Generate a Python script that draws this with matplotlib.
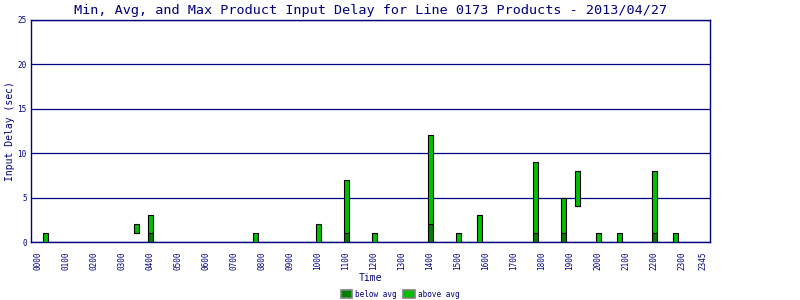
import numpy as np
import matplotlib
matplotlib.use("Agg")
import matplotlib.pyplot as plt
from matplotlib.patches import Patch

# quarter-hour slot index (0 = 00:00, 95 = 23:45) and delay stats in seconds
slots = [1, 14, 16, 31, 40, 44, 48, 56, 60, 63, 71, 75, 77, 80, 83, 88, 91]
min_delay = [0, 1, 0, 0, 0, 0, 0, 0, 0, 0, 0, 0, 4, 0, 0, 0, 0]
avg_delay = [0, 1, 1, 0, 0, 1, 0, 2, 0, 0, 1, 1, 4, 0, 0, 1, 0]
max_delay = [1, 2, 3, 1, 2, 7, 1, 12, 1, 3, 9, 5, 8, 1, 1, 8, 1]

tick_slots = list(range(0, 96, 4)) + [95]
tick_labels = ["%02d00" % h for h in range(24)] + ["2345"]

navy = "#000080"
dark_green = "#008000"
light_green = "#00c000"

fig = plt.figure(figsize=(8, 3), dpi=100)
ax = fig.add_axes([31 / 800, 1 - 242 / 300, 679 / 800, 222 / 300])

x = np.array(slots)
mn = np.array(min_delay)
av = np.array(avg_delay)
mx = np.array(max_delay)

ax.bar(x + 0.1, av - mn, bottom=mn, width=0.7, color=dark_green,
       edgecolor="black", linewidth=0.8, zorder=3)
ax.bar(x + 0.1, mx - av, bottom=av, width=0.7, color=light_green,
       edgecolor="black", linewidth=0.8, zorder=3)

ax.set_xlim(-1, 96)
ax.set_ylim(0, 25)
ax.set_yticks([0, 5, 10, 15, 20, 25])
ax.set_xticks(tick_slots)
ax.set_xticklabels(tick_labels, rotation=90)
ax.tick_params(axis="both", length=0, colors=navy, labelsize=5.5, pad=3)
ax.tick_params(axis="x", pad=7)
ax.grid(axis="y", color=navy, linewidth=0.9, zorder=1)

for s in ax.spines.values():
    s.set_color(navy)
    s.set_linewidth(1.0)

mono = "DejaVu Sans Mono"
for lab in ax.get_xticklabels() + ax.get_yticklabels():
    lab.set_family(mono)

ax.set_title("Min, Avg, and Max Product Input Delay for Line 0173 Products - 2013/04/27",
             family=mono, fontsize=9.7, color=navy, pad=4, x=0.5)
ax.set_ylabel("Input Delay (sec)", family=mono, fontsize=7, color=navy, labelpad=2)
ax.set_xlabel("Time", family=mono, fontsize=7, color=navy, labelpad=2)

handles = [Patch(facecolor=dark_green, edgecolor="gray", linewidth=1.2, label="below avg"),
           Patch(facecolor=light_green, edgecolor="gray", linewidth=1.2, label="above avg")]
fig.legend(handles=handles, loc="lower center", bbox_to_anchor=(400 / 800, -0.018), ncol=2,
           frameon=False, prop={"family": mono, "size": 5.5}, handlelength=1.5,
           handleheight=1.2, columnspacing=0.8, handletextpad=0.4, labelcolor=navy)

fig.savefig("out.png", dpi=100)
